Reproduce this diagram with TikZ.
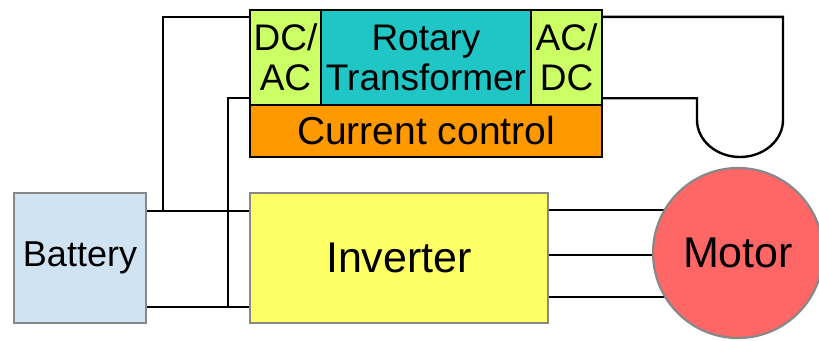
\documentclass[tikz,border=0pt]{standalone}
\usepackage{fontspec}
\setmainfont{Liberation Sans}
\usetikzlibrary{backgrounds,calc}
\definecolor{batfill}{HTML}{CFE3F3}
\definecolor{invfill}{HTML}{FFFF66}
\definecolor{motfill}{HTML}{FF6666}
\definecolor{convfill}{HTML}{CCFF66}
\definecolor{rotfill}{HTML}{20C6C6}
\definecolor{ctrlfill}{HTML}{FF9900}
\definecolor{edgegray}{HTML}{888888}
\begin{document}
\begin{tikzpicture}[x=1pt,y=-1pt,
  wire/.style={line width=2.4pt, black},
  graybox/.style={draw=edgegray, line width=2.2pt, inner sep=0pt, align=center},
  blackbox/.style={draw=black, line width=2.4pt, inner sep=0pt, align=center},
  bigtxt/.style={font=\fontsize{43}{46}\selectfont},
  midtxt/.style={font=\fontsize{37}{40}\selectfont}]
\useasboundingbox (0,0) rectangle (819,340);
% main nodes
\node[graybox, fill=batfill, minimum width=132pt, minimum height=130pt, font=\fontsize{36}{40}\selectfont] (bat) at (80,258) {Battery};
\node[graybox, fill=invfill, minimum width=298pt, minimum height=130pt, bigtxt] (inv) at (399,258) {Inverter};
\node[circle, graybox, fill=motfill, minimum size=170pt, bigtxt] (motor) at (738,253) {Motor};
% top block
\node[blackbox, fill=convfill, minimum width=71pt, minimum height=95pt, midtxt] (dcac) at (285.5,57.5) {DC/\\AC};
\node[blackbox, fill=rotfill, minimum width=210pt, minimum height=95pt, midtxt] (rot) at (426,57.5) {Rotary\\Transformer};
\node[blackbox, fill=convfill, minimum width=71pt, minimum height=95pt, midtxt] (acdc) at (566.5,57.5) {AC/\\DC};
\node[blackbox, fill=ctrlfill, minimum width=352pt, minimum height=52pt, font=\fontsize{39}{42}\selectfont] (ctrl) at (426,131) {Current control};
% junction coordinates
\coordinate (j1) at (163,211);
\coordinate (j2) at (228,307);
\coordinate (lr) at (783,120);
\coordinate (ll) at (697,120);
\coordinate (lb) at (740,157);
\coordinate (m1) at (0,210);
\coordinate (m2) at (0,255);
\coordinate (m3) at (0,297);
% wires
\draw[wire] ([yshift=-8pt]dcac.north west) -| (j1);
\draw[wire] ([yshift=8pt]dcac.south west) -| (j2);
\draw[wire] (bat.east |- j1) -- (inv.west |- j1);
\draw[wire] (bat.east |- j2) -- (inv.west |- j2);
\draw[wire] ([yshift=-8pt]acdc.north east) -| (lr)
  .. controls (783,140.4) and (763.7,157) .. (lb)
  .. controls (716.3,157) and (697,140.4) .. (ll)
  |- ([yshift=8pt]acdc.south east);
\begin{scope}[on background layer]
\draw[wire] (inv.east |- m1) -- (motor.center |- m1);
\draw[wire] (inv.east |- m2) -- (motor.center |- m2);
\draw[wire] (inv.east |- m3) -- (motor.center |- m3);
\end{scope}
\end{tikzpicture}
\end{document}
